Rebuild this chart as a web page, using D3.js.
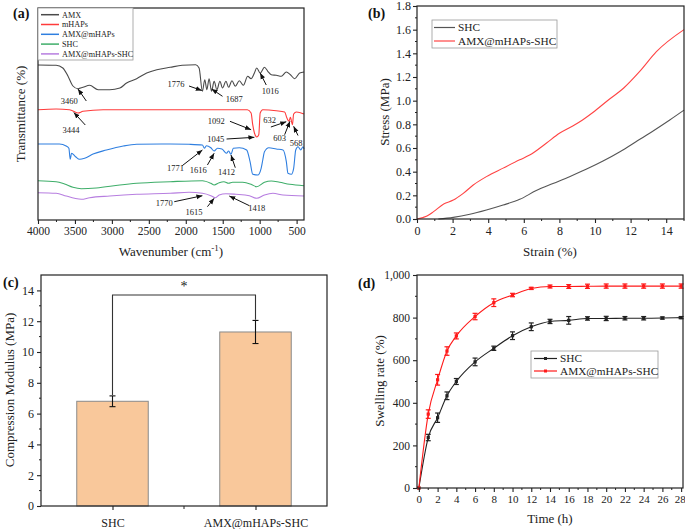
<!DOCTYPE html>
<html><head><meta charset="utf-8">
<script src="https://cdn.jsdelivr.net/npm/d3@7"></script>
<style>
body{margin:0;background:#fff;}
svg{display:block;font-family:"Liberation Serif","Times New Roman",serif;}
</style></head><body>
<svg id="fig" width="685" height="529"></svg>
<script>
// ---------- DATA ----------
// (a) FTIR spectra: [wavenumber, offset transmittance]
const ftirNames = ["AMX","mHAPs","AMX@mHAPs","SHC","AMX@mHAPs-SHC"];
const ftirAMX = [[4000,155],[3755,154.7],[3664,152],[3595,144],[3527,134],[3459,131.3],[3391,132.7],[3301,134.7],[3187,130.3],[3029,130.3],[2892,132],[2801,137],[2665,141.3],[2529,147],[2392,150.3],[2211,152.7],[2048,154.7],[1865,155.3],[1820,152],[1775,128.7],[1743,140.3],[1715,130.3],[1684,141.3],[1652,128.7],[1616,138.7],[1579,130.3],[1538,138.7],[1503,132],[1456,138.7],[1420,132.7],[1375,139.3],[1330,133.7],[1275,139.3],[1221,134.7],[1162,143.7],[1116,141.3],[1071,147],[1040,152],[993,147],[935,152.7],[890,148.7],[843,145.3],[775,144.7],[707,143.7],[639,148],[584,145.3],[526,141.3],[458,147],[400,148]];
const ftirMHAPs = [[4000,110.3],[3755,111],[3573,110.3],[3459,107],[3391,108.7],[3118,110.3],[2500,110.3],[1500,110.3],[1166,110.3],[1116,107],[1094,95.3],[1071,87],[1040,83],[1012,85.3],[993,107],[958,110.3],[775,109.3],[662,108],[631,102],[604,98.7],[584,102.7],[557,95.3],[540,106],[503,108],[400,106]];
const ftirAMXmHAPs = [[4000,76],[3710,76],[3619,74],[3582,71.7],[3564,60.7],[3546,66.7],[3492,63.3],[3437,60.7],[3369,61.7],[3255,66],[3074,70],[2846,74],[2665,75.7],[2211,76],[1956,75.7],[1775,75],[1748,71.7],[1721,74.3],[1661,72.3],[1616,69],[1571,71.7],[1511,71],[1449,66.7],[1420,69],[1388,65.7],[1357,71.7],[1275,72.3],[1176,70],[1130,58.3],[1094,45.7],[1026,45],[980,51.7],[958,60],[935,68.3],[876,72.3],[775,71],[684,70],[639,58.3],[617,46.7],[571,45.7],[540,51.7],[512,70],[481,73.3],[444,70],[413,73.3],[400,71]];
const ftirSHC = [[4000,39.3],[3755,38.3],[3641,36],[3527,32.7],[3414,31.3],[3210,32],[2892,35],[2665,36.7],[2211,38.3],[1775,39.3],[1661,36.7],[1616,35],[1548,37.3],[1484,38.3],[1420,36.7],[1366,37.7],[1230,37.7],[1116,35.7],[1040,33.3],[935,37.7],[843,39],[730,37.7],[594,35.7],[400,34.3]];
const ftirAMXmHAPsSHC = [[4000,27.3],[3755,26.7],[3619,24],[3505,21.7],[3414,20.7],[3301,22.3],[3029,24],[2665,25.7],[2211,26.7],[1956,27.7],[1775,26.7],[1661,24.3],[1602,22.3],[1548,25],[1456,26.3],[1321,25.7],[1139,24.3],[1040,21.7],[935,25],[821,26.7],[684,25],[400,24]];
const ftirColors = ["#4a4a4a","#ff3b3b","#2f7fe0","#3fae6a","#b77ee0"];
const ftirTicks = [4000,3500,3000,2500,2000,1500,1000,500];
// peak annotations: label, label pos [w,v], arrow tail [w,v], arrow tip [w,v]
const ftirPeaks = [
  ["3460",[3578,119],[3346,119],[3459,131]],
  ["1776",[2134,136],[1956,134],[1783,129.5]],
  ["1687",[1343,121],[1503,123.7],[1650,131]],
  ["1016",[857,129],[911,135],[993,147]],
  ["3444",[3554,90],[3360,95],[3515,107.5]],
  ["1092",[1589,99],[1402,98.7],[1116,90.3]],
  ["1045",[1593,81],[1448,81],[1071,82.7]],
  ["632",[866,100.3],[848,93],[640,98.3]],
  ["603",[730,82],[662,85.3],[590,98.7]],
  ["568",[505,77],[481,84.5],[540,93.7]],
  ["1771",[2138,51.7],[2048,54.3],[1775,70]],
  ["1616",[1830,50],[1707,55],[1616,66.7]],
  ["1412",[1448,47.7],[1330,52.3],[1388,65]],
  ["1770",[2292,17.3],[2156,18.3],[1775,24.3]],
  ["1615",[1888,7.7],[1707,13.3],[1616,21.7]],
  ["1418",[1040,12.3],[1139,14.3],[1411,24]]
];

// (b) stress-strain: [strain %, stress MPa]
const stressSHC = [[1.2,0],[2.04,0.014],[2.97,0.04],[3.9,0.076],[4.84,0.118],[5.77,0.166],[6.7,0.24],[7.64,0.30],[8.57,0.358],[9.5,0.42],[10.45,0.49],[11.4,0.569],[12.3,0.653],[13.2,0.738],[14.2,0.837],[15,0.92]];
const stressAMX = [[0,0],[0.56,0.025],[0.93,0.062],[1.5,0.127],[2.04,0.16],[2.6,0.217],[3.16,0.287],[3.9,0.358],[4.84,0.43],[5.77,0.50],[6.33,0.54],[7.26,0.64],[8.0,0.724],[8.75,0.786],[9.3,0.837],[9.88,0.90],[10.75,1.006],[11.6,1.105],[12.5,1.245],[13.45,1.414],[15,1.6]];
const stressNames = ["SHC","AMX@mHAPs-SHC"];

// (c) compression modulus
const modCats = ["SHC","AMX@mHAPs-SHC"];
const modValues = [6.8,11.3];
const modErrors = [0.35,0.75];
const modSigLevel = 13.7;
const modSigLabel = "*";

// (d) swelling
const swellTime = [0,1,2,3,4,6,8,10,12,14,16,18,20,22,24,26,28];
const swellSHC = [0,237,330,433,500,592,656,715,757,782,787,796,796,797,797,798,800];
const swellSHCErr = [0,15,22,18,14,18,10,18,18,10,18,8,10,8,8,5,5];
const swellAMX = [0,347,508,643,714,805,870,906,937,946,946,947,948,948,948,948,948];
const swellAMXErr = [0,20,25,20,14,15,18,8,5,7,9,10,10,10,10,10,10];
const swellTicks = [0,2,4,6,8,10,12,14,16,18,20,22,24,26,28];

// ---------- DRAW ----------
const svg = d3.select("#fig");
svg.append("rect").attr("width",685).attr("height",529).attr("fill","#fff");
const defs = svg.append("defs");
defs.append("marker").attr("id","arr").attr("viewBox","0 0 10 10").attr("refX",10).attr("refY",5)
  .attr("markerWidth",6).attr("markerHeight",6).attr("markerUnits","userSpaceOnUse").attr("orient","auto")
  .append("path").attr("d","M0,1 L10,5 L0,9 z").attr("fill","#111");

function frame(g,x0,x1,y0,y1){
  g.append("rect").attr("x",x0).attr("y",y0).attr("width",x1-x0).attr("height",y1-y0)
    .attr("fill","none").attr("stroke","#222").attr("stroke-width",1.2);
}
function styleAxis(ax){
  ax.select(".domain").remove();
  ax.selectAll(".tick line").attr("stroke","#222").attr("stroke-width",1.1);
  ax.selectAll(".tick text").attr("fill","#222").attr("font-family","Liberation Serif, serif");
}
function minor(g,vals,scale,orient,pos,len){
  vals.forEach(v=>{
    const p = scale(v);
    if(orient==="x") g.append("line").attr("x1",p).attr("x2",p).attr("y1",pos).attr("y2",pos+len).attr("stroke","#222");
    else g.append("line").attr("x1",pos).attr("x2",pos-len).attr("y1",p).attr("y2",p).attr("stroke","#222");
  });
}
function panelLabel(t,x,y){
  svg.append("text").attr("x",x).attr("y",y).attr("font-size",14).attr("font-weight","bold").attr("fill","#111").text(t);
}

// ===== Panel (a) =====
(function(){
  const g = svg.append("g");
  const x = d3.scaleLinear().domain([4000,400]).range([38,304]);
  const y = d3.scaleLinear().domain([0,212]).range([220,8]);
  const series = [ftirAMX,ftirMHAPs,ftirAMXmHAPs,ftirSHC,ftirAMXmHAPsSHC];
  const line = d3.line().x(d=>x(d[0])).y(d=>y(d[1])).curve(d3.curveMonotoneX);
  series.forEach((s,i)=>{
    g.append("path").datum(s).attr("d",line).attr("fill","none").attr("stroke",ftirColors[i]).attr("stroke-width",1.1);
  });
  ftirPeaks.forEach(p=>{
    g.append("line").attr("x1",x(p[2][0])).attr("y1",y(p[2][1])).attr("x2",x(p[3][0])).attr("y2",y(p[3][1]))
      .attr("stroke","#111").attr("stroke-width",1).attr("marker-end","url(#arr)");
    g.append("text").attr("x",x(p[1][0])).attr("y",y(p[1][1])).attr("dy","0.35em").attr("text-anchor","middle")
      .attr("font-size",8.5).attr("fill","#222").text(p[0]);
  });
  frame(g,38,304,8,220);
  const ax = g.append("g").attr("transform","translate(0,220)")
    .call(d3.axisBottom(x).tickValues(ftirTicks).tickSize(4).tickPadding(3).tickFormat(d3.format("d")));
  styleAxis(ax); ax.selectAll("text").attr("font-size",11.5);
  minor(g,[3750,3250,2750,2250,1750,1250,750],x,"x",220,2);
  const lg = g.append("g");
  lg.append("rect").attr("x",38).attr("y",8).attr("width",95).attr("height",52).attr("fill","#fff").attr("stroke","#999").attr("stroke-width",0.8);
  ftirNames.forEach((n,i)=>{
    const yy = 14.7 + i*9.8;
    lg.append("line").attr("x1",41).attr("x2",59).attr("y1",yy).attr("y2",yy).attr("stroke",ftirColors[i]).attr("stroke-width",1.5);
    lg.append("text").attr("x",62).attr("y",yy).attr("dy","0.35em").attr("font-size",8.2).attr("fill","#222").text(n);
  });
  svg.append("text").attr("transform","translate(25,114) rotate(-90)").attr("text-anchor","middle")
    .attr("font-size",13).attr("fill","#222").text("Transmittance (%)");
  const xt = svg.append("text").attr("x",171).attr("y",256).attr("text-anchor","middle").attr("font-size",13).attr("fill","#222");
  xt.append("tspan").text("Wavenumber (cm");
  xt.append("tspan").attr("dy",-5).attr("font-size",9).text("-1");
  xt.append("tspan").attr("dy",5).text(")");
  panelLabel("(a)",13,18);
})();

// ===== Panel (b) =====
(function(){
  const g = svg.append("g");
  const x = d3.scaleLinear().domain([0,15]).range([417,684]);
  const y = d3.scaleLinear().domain([0,1.8]).range([219,6]);
  const line = d3.line().x(d=>x(d[0])).y(d=>y(d[1])).curve(d3.curveMonotoneX);
  const cols = ["#555555","#ff4444"];
  [stressSHC,stressAMX].forEach((s,i)=>{
    g.append("path").datum(s).attr("d",line).attr("fill","none").attr("stroke",cols[i]).attr("stroke-width",1.1);
  });
  frame(g,417,684,6,219);
  const ax = g.append("g").attr("transform","translate(0,219)").call(d3.axisBottom(x).tickValues([0,2,4,6,8,10,12,14]).tickSize(4).tickPadding(3));
  styleAxis(ax); ax.selectAll("text").attr("font-size",12);
  minor(g,[1,3,5,7,9,11,13,15],x,"x",219,2);
  const ay = g.append("g").attr("transform","translate(417,0)").call(d3.axisLeft(y).tickValues([0,0.2,0.4,0.6,0.8,1.0,1.2,1.4,1.6,1.8]).tickSize(4).tickPadding(2).tickFormat(d3.format(".1f")));
  styleAxis(ay); ay.selectAll("text").attr("font-size",12);
  minor(g,[0.1,0.3,0.5,0.7,0.9,1.1,1.3,1.5,1.7],y,"y",417,2);
  const lg = g.append("g");
  lg.append("rect").attr("x",432).attr("y",20).attr("width",125).attr("height",28).attr("fill","#fff").attr("stroke","#999").attr("stroke-width",0.8);
  stressNames.forEach((n,i)=>{
    const yy = 27.5 + i*13.5;
    lg.append("line").attr("x1",434).attr("x2",455).attr("y1",yy).attr("y2",yy).attr("stroke",cols[i]).attr("stroke-width",1.2);
    lg.append("text").attr("x",458).attr("y",yy).attr("dy","0.35em").attr("font-size",11.3).attr("fill","#222").text(n);
  });
  svg.append("text").attr("transform","translate(389,112) rotate(-90)").attr("text-anchor","middle").attr("font-size",13).attr("fill","#222").text("Stress (MPa)");
  svg.append("text").attr("x",550).attr("y",256).attr("text-anchor","middle").attr("font-size",13).attr("fill","#222").text("Strain (%)");
  panelLabel("(b)",368,18);
})();

// ===== Panel (c) =====
(function(){
  const g = svg.append("g");
  const x = d3.scalePoint().domain(modCats).range([41,327]).padding(0.5);
  const step = x.step(), bw = step*0.5;
  const y = d3.scaleLinear().domain([0,15]).range([506,275]);
  modCats.forEach((c,i)=>{
    g.append("rect").attr("x",x(c)-bw/2).attr("y",y(modValues[i])).attr("width",bw).attr("height",y(0)-y(modValues[i]))
      .attr("fill","#f9c89b").attr("stroke","#8a8a8a").attr("stroke-width",1);
    const cx = x(c), t = y(modValues[i]+modErrors[i]), b = y(modValues[i]-modErrors[i]);
    g.append("line").attr("x1",cx).attr("x2",cx).attr("y1",t).attr("y2",b).attr("stroke","#111").attr("stroke-width",1.1);
    [t,b].forEach(v=>g.append("line").attr("x1",cx-3).attr("x2",cx+3).attr("y1",v).attr("y2",v).attr("stroke","#111").attr("stroke-width",1.1));
  });
  const bx0 = x(modCats[0]), bx1 = x(modCats[1]);
  const l0 = y(modValues[0]+modErrors[0]+0.05), l1 = y(modValues[1]+modErrors[1]+0.05), top = y(modSigLevel);
  g.append("path").attr("d",`M${bx0},${l0}V${top}H${bx1}V${l1}`).attr("fill","none").attr("stroke","#333").attr("stroke-width",1.1);
  g.append("text").attr("x",(bx0+bx1)/2).attr("y",top-4).attr("text-anchor","middle").attr("font-size",14).attr("fill","#222").text(modSigLabel);
  frame(g,41,327,275,506);
  const ax = g.append("g").attr("transform","translate(0,506)").call(d3.axisBottom(x).tickSize(4).tickPadding(8));
  styleAxis(ax); ax.selectAll("text").attr("font-size",12);
  g.append("line").attr("x1",(bx0+bx1)/2).attr("x2",(bx0+bx1)/2).attr("y1",506).attr("y2",509).attr("stroke","#222");
  const ay = g.append("g").attr("transform","translate(41,0)").call(d3.axisLeft(y).tickValues([0,2,4,6,8,10,12,14]).tickSize(4).tickPadding(3));
  styleAxis(ay); ay.selectAll("text").attr("font-size",12);
  minor(g,[1,3,5,7,9,11,13],y,"y",41,2);
  svg.append("text").attr("transform","translate(14,390) rotate(-90)").attr("text-anchor","middle").attr("font-size",13).attr("fill","#222").text("Compression Modulus (MPa)");
  panelLabel("(c)",3,287);
})();

// ===== Panel (d) =====
(function(){
  const g = svg.append("g");
  const x = d3.scaleLinear().domain([-0.2,28.2]).range([417,683]);
  const y = d3.scaleLinear().domain([0,1000]).range([488,275]);
  const cols = ["#222222","#ff1a1a"];
  const names = ["SHC","AMX@mHAPs-SHC"];
  [[swellSHC,swellSHCErr],[swellAMX,swellAMXErr]].forEach((s,k)=>{
    const pts = swellTime.map((t,i)=>({t,v:s[0][i],e:s[1][i]}));
    g.append("path").datum(pts).attr("d",d3.line().x(d=>x(d.t)).y(d=>y(d.v)).curve(d3.curveMonotoneX))
      .attr("fill","none").attr("stroke",cols[k]).attr("stroke-width",1.1);
    pts.filter(d=>d.e>0).forEach(d=>{
      const cx=x(d.t), t=y(d.v+d.e), b=y(d.v-d.e);
      g.append("line").attr("x1",cx).attr("x2",cx).attr("y1",t).attr("y2",b).attr("stroke",cols[k]).attr("stroke-width",1.2);
      [t,b].forEach(v=>g.append("line").attr("x1",cx-2.5).attr("x2",cx+2.5).attr("y1",v).attr("y2",v).attr("stroke",cols[k]).attr("stroke-width",1.2));
    });
    g.selectAll(null).data(pts).enter().append("rect").attr("x",d=>x(d.t)-1.6).attr("y",d=>y(d.v)-1.6)
      .attr("width",3.2).attr("height",3.2).attr("fill",cols[k]);
  });
  frame(g,417,683,275,488);
  const ax = g.append("g").attr("transform","translate(0,488)").call(d3.axisBottom(x).tickValues(swellTicks).tickSize(4).tickPadding(3));
  styleAxis(ax); ax.selectAll("text").attr("font-size",11);
  ax.selectAll(".tick text").filter(d=>d===28).attr("dx",-1.5);
  minor(g,d3.range(1,28,2),x,"x",488,2);
  const ay = g.append("g").attr("transform","translate(417,0)").call(d3.axisLeft(y).tickValues([0,200,400,600,800,1000]).tickSize(4).tickPadding(3));
  styleAxis(ay); ay.selectAll("text").attr("font-size",11.5);
  minor(g,[100,300,500,700,900],y,"y",417,2);
  const lg = g.append("g");
  lg.append("rect").attr("x",531).attr("y",351).attr("width",127).attr("height",27).attr("fill","#fff").attr("stroke","#999").attr("stroke-width",0.8);
  names.forEach((n,i)=>{
    const yy = 358.5 + i*12.5;
    lg.append("line").attr("x1",534).attr("x2",557).attr("y1",yy).attr("y2",yy).attr("stroke",cols[i]).attr("stroke-width",1.2);
    lg.append("rect").attr("x",544).attr("y",yy-1.5).attr("width",3).attr("height",3).attr("fill",cols[i]);
    lg.append("text").attr("x",560).attr("y",yy).attr("dy","0.35em").attr("font-size",11.3).attr("fill","#222").text(n);
  });
  svg.append("text").attr("transform","translate(384,381) rotate(-90)").attr("text-anchor","middle").attr("font-size",13).attr("fill","#222").text("Swelling rate (%)");
  svg.append("text").attr("x",550).attr("y",523).attr("text-anchor","middle").attr("font-size",13).attr("fill","#222").text("Time (h)");
  panelLabel("(d)",358,288);
})();
</script>
</body></html>
